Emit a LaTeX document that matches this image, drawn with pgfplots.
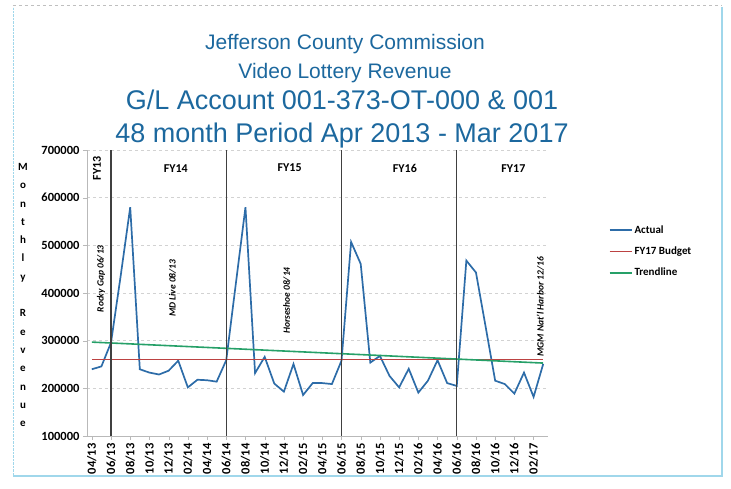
\documentclass[border=0pt]{standalone}
\usepackage{fontspec}
\setmainfont{Carlito}
\newfontfamily\arial{Liberation Sans}
\usepackage{pgfplots}
\pgfplotsset{compat=1.18}

\definecolor{titleblue}{RGB}{28,104,158}
\definecolor{actualblue}{RGB}{45,108,168}
\definecolor{budgetred}{RGB}{188,66,66}
\definecolor{trendgreen}{RGB}{38,160,104}
\definecolor{framecyan}{RGB}{160,215,235}

\begin{document}
\begin{tikzpicture}[x=1pt,y=1pt]
% the axis box sits with its lower left corner at (0,0)
\useasboundingbox (-87,-53) rectangle (644,436);
\draw[framecyan, line width=1.2pt] (-74,-40) -- (635,-40) -- (635,429);
\draw[framecyan, densely dotted] (-74,-40) -- (-74,429);
\draw[gray!50, dashed] (-74,431) -- (635,431);

% title
\node[anchor=base, text=titleblue, font=\arial\fontsize{21}{24}\selectfont] at (258,386) {Jefferson County Commission};
\node[anchor=base, text=titleblue, font=\arial\fontsize{21}{24}\selectfont] at (258,357) {Video Lottery Revenue};
\node[anchor=base, text=titleblue, font=\arial\fontsize{27}{30}\selectfont] at (255,326) {G/L Account 001-373-OT-000 \& 001};
\node[anchor=base, text=titleblue, font=\arial\fontsize{27}{30}\selectfont] at (255,293) {48 month Period Apr 2013 - Mar 2017};

% y axis title, one letter a line
\node[align=center, font=\fontsize{11}{18.3}\selectfont\bfseries] at (-64,141)
  {M\\o\\n\\t\\h\\l\\y\\[18.3pt]R\\e\\v\\e\\n\\u\\e};

\begin{axis}[
  scale only axis, width=461pt, height=286pt,
  xmin=-0.5, xmax=47.5, ymin=100000, ymax=700000,
  xtick={0,2,...,46},
  xticklabels={04/13,06/13,08/13,10/13,12/13,02/14,04/14,06/14,08/14,10/14,12/14,02/15,
    04/15,06/15,08/15,10/15,12/15,02/16,04/16,06/16,08/16,10/16,12/16,02/17},
  xticklabel style={rotate=90, anchor=east, font=\fontsize{12.5}{14}\selectfont\bfseries},
  ytick={100000,200000,300000,400000,500000,600000,700000},
  yticklabels={100000,200000,300000,400000,500000,600000,700000},
  yticklabel style={font=\fontsize{12.5}{14}\selectfont\bfseries},
  scaled y ticks=false,
  axis x line*=bottom, axis y line*=left,
  axis line style={gray!55},
  tick style={gray!55}, major tick length=4pt,
  tick align=outside,
  ymajorgrids, grid style={gray!35, dashed},
  legend style={at={(1.125,0.645)}, anchor=west, draw=none, fill=none,
    font=\fontsize{11}{13}\selectfont\bfseries, row sep=8pt,
    legend cell align=left},
  legend image code/.code={\draw[#1] (0pt,0pt) -- (22pt,0pt);},
]
\addplot[actualblue, line width=1.7pt] coordinates {
  (0,240000) (1,246000) (2,296000) (3,435000) (4,580000) (5,240000)
  (6,233000) (7,229000) (8,237000) (9,258000) (10,202000) (11,218000)
  (12,217000) (13,214000) (14,259000) (15,420000) (16,580000) (17,232000)
  (18,266000) (19,210000) (20,193000) (21,251000) (22,186000) (23,211000)
  (24,211000) (25,209000) (26,258000) (27,507000) (28,461000) (29,254000)
  (30,268000) (31,226000) (32,202000) (33,241000) (34,191000) (35,216000)
  (36,259000) (37,211000) (38,205000) (39,468000) (40,443000) (41,330000)
  (42,216000) (43,209000) (44,189000) (45,233000) (46,182000) (47,251000)
};
\addlegendentry{Actual}
\addplot[budgetred, line width=1.4pt] coordinates {(0,260000) (47,260000)};
\addlegendentry{FY17 Budget}
\addplot[trendgreen, line width=1.6pt] coordinates {(0,297000) (47,253000)};
\addlegendentry{Trendline}

% fiscal year dividers
\draw[black!75, line width=1.1pt] (axis cs:2,100000) -- (axis cs:2,700000);
\draw[black!75, line width=1.1pt] (axis cs:14,100000) -- (axis cs:14,700000);
\draw[black!75, line width=1.1pt] (axis cs:26,100000) -- (axis cs:26,700000);
\draw[black!75, line width=1.1pt] (axis cs:38,100000) -- (axis cs:38,700000);
\node[font=\fontsize{12}{14}\selectfont\bfseries, rotate=90] at (axis cs:0.55,662000) {FY13};
\node[font=\fontsize{12}{14}\selectfont\bfseries] at (axis cs:8.75,662000) {FY14};
\node[font=\fontsize{12}{14}\selectfont\bfseries] at (axis cs:20.6,662000) {FY15};
\node[font=\fontsize{12}{14}\selectfont\bfseries] at (axis cs:32.6,662000) {FY16};
\node[font=\fontsize{12}{14}\selectfont\bfseries] at (axis cs:43.9,662000) {FY17};

\node[font=\fontsize{9.5}{11}\selectfont\bfseries\itshape, rotate=90] at (axis cs:0.95,430000) {Rocky Gap 06/13};
\node[font=\fontsize{9.5}{11}\selectfont\bfseries\itshape, rotate=90] at (axis cs:8.4,410000) {MD Live 08/13};
\node[font=\fontsize{9.5}{11}\selectfont\bfseries\itshape, rotate=90] at (axis cs:20.3,384000) {Horseshoe 08/14};
\node[font=\fontsize{9.5}{11}\selectfont\bfseries\itshape, rotate=90] at (axis cs:46.7,371000) {MGM Nat'l Harbor 12/16};
\end{axis}
\end{tikzpicture}
\end{document}
